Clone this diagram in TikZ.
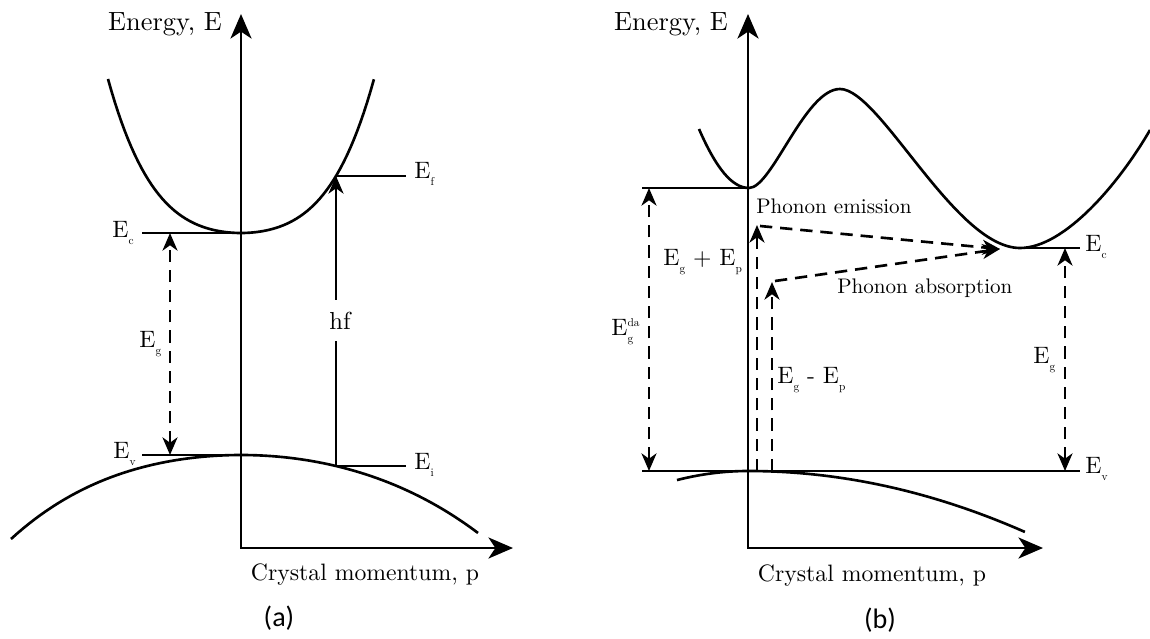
\documentclass[tikz,border=0pt]{standalone}
\usepackage{fontspec}
\setmainfont{lmroman10-regular.otf}[BoldFont=lmroman10-bold.otf, ItalicFont=lmroman10-italic.otf]
\newfontfamily\capfont{Carlito}
\usetikzlibrary{arrows.meta}

% level names: E with a small, low index
\newcommand{\Esub}[1]{\raisebox{-4pt}{\fontsize{6.5}{7}\selectfont #1}}
\newcommand{\Elev}[1]{E\Esub{#1}}

\tikzset{
  axtip/.tip={Stealth[length=14pt,width=12pt,inset=4pt]},
  smtip/.tip={Stealth[length=10pt,width=8.5pt,inset=3pt]},
}

\begin{document}
\begin{tikzpicture}[
    x=0.02cm, y=-0.02cm,
    axis/.style={line width=1.5pt, arrows={axtip-axtip}},
    band/.style={line width=1.5pt, line join=round},
    level/.style={line width=1.5pt},
    gaparrow/.style={line width=1.5pt, dash pattern=on 7pt off 4.5pt, arrows={smtip-smtip}},
    jump/.style={line width=1.5pt, dash pattern=on 7pt off 4.5pt, arrows={-smtip}},
    photon/.style={line width=1.5pt, arrows={-smtip}},
    title/.style={font=\fontsize{15}{18}\selectfont, inner sep=0pt, anchor=base},
    lvl/.style={font=\fontsize{13.5}{16}\selectfont, inner sep=0pt, anchor=base west},
    note/.style={font=\fontsize{12}{14}\selectfont, inner sep=0pt, anchor=base west},
    panel/.style={font=\capfont\fontsize{16}{19}\selectfont, inner sep=0pt}
  ]
  \useasboundingbox (0,0) rectangle (1150,639);

  % ---------- (a) direct gap ----------
  % Coordinates
  \coordinate (ya) at (241,14);
  \coordinate (xa) at (513,548);
  \coordinate (ca) at (241,233);
  \coordinate (va) at (241,455);
  \coordinate (eca) at (142,233);
  \coordinate (eva) at (142,455);
  \coordinate (efa) at (336,176);
  \coordinate (efe) at (406,176);
  \coordinate (eia) at (336,466);
  \coordinate (eie) at (406,466);
  \coordinate (gta) at (170,233);
  \coordinate (gba) at (170,455);

  % Axes and bands
  \draw[axis] (ya) |- (xa);
  \draw[band] plot[domain=-1.33:1.33, samples=80]
    ({241+100*\x}, {233-38.25*\x*\x-27.6*\x*\x*\x*\x});
  \draw[band] plot[domain=-2.3:2.37, samples=80]
    ({241+100*\x}, {455+11.87*\x*\x+(0.358+0.4*(\x<0))*\x*\x*\x*\x});

  % Levels
  \draw[level] (eca) -- (ca);
  \draw[level] (eva) -- (va);
  \draw[level] (efa) -- (efe);
  \draw[level] (eia) -- (eie);

  % Arrows
  \draw[gaparrow] (gba) -- (gta);
  \draw[photon] (eia) -- (efa);
  \node[fill=white, inner xsep=2pt, inner ysep=7pt, font=\fontsize{14}{17}\selectfont] (hf) at (340,320.5) {hf};

  % Labels
  \node[title] (ena) at (165,31) {Energy, E};
  \node[title, font=\fontsize{13.5}{16}\selectfont] (cma) at (365,580) {Crystal momentum, p};
  \node[lvl] (lca) at (112,237) {\Elev{c}};
  \node[lvl] (lva) at (113,458) {\Elev{v}};
  \node[lvl] (lfa) at (414,178) {\Elev{f}};
  \node[lvl] (lia) at (414,469) {\Elev{i}};
  \node[lvl] (lga) at (139,347) {\Elev{g}};
  \node[panel] (pa) at (279,618) {(a)};

  % ---------- (b) indirect gap ----------
  % Coordinates
  \coordinate (yb) at (748,14);
  \coordinate (xb) at (1043,548);
  \coordinate (cb) at (749,188);
  \coordinate (xv) at (1020,248);
  \coordinate (vb) at (748,471);
  \coordinate (edl) at (642,188);
  \coordinate (evl) at (642,471);
  \coordinate (evr) at (1080,471);
  \coordinate (ecr) at (1080,248);
  \coordinate (dat) at (649,188);
  \coordinate (dab) at (649,471);
  \coordinate (egt) at (1065,248);
  \coordinate (egb) at (1065,471);
  \coordinate (emb) at (757,471);
  \coordinate (emt) at (757,225);
  \coordinate (abb) at (772,471);
  \coordinate (abt) at (772,282);
  \coordinate (ems) at (760,226);
  \coordinate (abs) at (775,281);
  \coordinate (hit) at (1000,249);

  % Axes and bands
  \draw[axis] (yb) |- (xb);
  \draw[band] (699,129) .. controls (716,168) and (732,188) .. (cb)
    .. controls (772,188) and (805,89) .. (840,89)
    .. controls (880,89) and (955,248) .. (xv)
    .. controls (1065,248) and (1120,182) .. (1150,130);
  \draw[band] plot[domain=-0.71:2.77, samples=80]
    ({748+100*\x}, {471+(7.95+10*(\x<0))*\x*\x});

  % Levels
  \draw[level] (edl) -- (cb);
  \draw[level] (evl) -- (evr);
  \draw[level] (xv) -- (ecr);

  % Arrows
  \draw[gaparrow] (dab) -- (dat);
  \draw[gaparrow] (egb) -- (egt);
  \draw[jump] (emb) -- (emt);
  \draw[jump] (abb) -- (abt);
  \draw[jump] (ems) -- (hit);
  \draw[jump] (abs) -- (hit);

  % Labels
  \node[title] (enb) at (671,31) {Energy, E};
  \node[title, font=\fontsize{13.5}{16}\selectfont] (cmb) at (872,581) {Crystal momentum, p};
  \node[lvl] (lda) at (611,335) {E\rlap{\Esub{g}}\raisebox{4.7pt}{\fontsize{6.5}{7}\selectfont da}};
  \node[lvl] (lgp) at (663,265) {\Elev{g} + \Elev{p}};
  \node[lvl] (lgm) at (777,383) {\Elev{g} - \Elev{p}};
  \node[lvl] (lgb) at (1033,363) {\Elev{g}};
  \node[lvl] (lcb) at (1085,251) {\Elev{c}};
  \node[lvl] (lvb) at (1085,473) {\Elev{v}};
  \node[note] (emi) at (756,213) {Phonon emission};
  \node[note] (abo) at (837,293) {Phonon absorption};
  \node[panel] (pb) at (880,620) {(b)};
\end{tikzpicture}
\end{document}
